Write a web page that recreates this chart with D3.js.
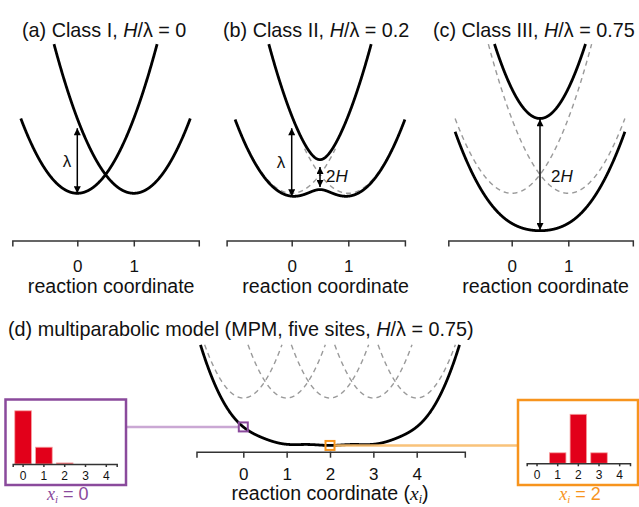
<!DOCTYPE html>
<html>
<head>
<meta charset="utf-8">
<script src="https://cdnjs.cloudflare.com/ajax/libs/d3/7.8.5/d3.min.js"></script>
<style>
    body {
        margin: 0;
        background: #fff;
        font-family: 'Liberation Sans', Arial, sans-serif;
    }
    svg text {
        fill: #111;
    }
    .axis .domain, .axis line {
        stroke: #333;
        stroke-width: 1.5;
    }
</style>
</head>
<body>
<svg width="639" height="507"></svg>
<script>
    // two-state panels: class name and coupling H/lambda
    var classNames = ["(a) Class I, ", "(b) Class II, ", "(c) Class III, "];
    var couplings = [0, 0.2, 0.75];
    var couplingLabels = ["0", "0.2", "0.75"];
    var stateCenters = [0, 1];
    var xTicks = [0, 1];
    // arrows [x, from, to] in units of lambda
    var lambdaArrows = [[0, 0, 0.87], [0, -0.04, 0.87], null];
    var twoHArrows = [null, [0.5, 0.085, 0.35], [0.5, -0.49, 0.99]];

    // multiparabolic model, five sites
    var mpmSites = [0, 1, 2, 3, 4];
    var mpmCoupling = 0.75;
    var mpmTicks = [0, 1, 2, 3, 4];
    var insetSites = [0, 1, 2, 3, 4];
    var probAtX0 = [0.76, 0.24, 0.015, 0, 0];
    var probAtX2 = [0, 0.15, 0.70, 0.15, 0];

    var svg = d3.select("svg");

    svg.append("defs").append("marker")
        .attr("id", "ah")
        .attr("viewBox", "0 0 10 10")
        .attr("refX", 10).attr("refY", 5)
        .attr("markerUnits", "userSpaceOnUse")
        .attr("markerWidth", 8).attr("markerHeight", 7)
        .attr("orient", "auto-start-reverse")
        .append("path").attr("d", "M0,0L10,5L0,10z").attr("fill", "#000");

    function arrow(g, x1, y1, x2, y2) {
        g.append("line")
            .attr("x1", x1).attr("y1", y1).attr("x2", x2).attr("y2", y2)
            .attr("stroke", "#000").attr("stroke-width", 1.5)
            .attr("marker-start", "url(#ah)").attr("marker-end", "url(#ah)");
    }

    // ---------- panels a, b, c ----------
    var panelRange = [[77.3, 133.8], [291.7, 348.3], [511.7, 568.3]];
    var axisExtent = [[-1.15, 2.15], [-1.15, 2.0], [-1.12, 2.14]];
    var titleX = [22, 223, 433];
    var lambdaDx = [-6, -6.5, 0];
    var twoHDx = [0, 6, 11];
    var dashTop = [0, 0.6, 2.0];   // how high the diabatic (dashed) curves are drawn
    var Emax = 2.0;
    var y = d3.scaleLinear().domain([0, 1]).range([193.3, 118.5]);
    var xs = d3.range(-1, 2.0001, 0.004);

    classNames.forEach(function(name, i) {
        var x = d3.scaleLinear().domain([0, 1]).range(panelRange[i]);
        var H = couplings[i];
        var g = svg.append("g");

        var lineTo = function(top) {
            return d3.line()
                .defined(function(d) { return d[1] <= top; })
                .x(function(d) { return x(d[0]); })
                .y(function(d) { return y(d[1]); });
        };
        var line = lineTo(Emax);

        var va = function(t) { return (t - stateCenters[0]) * (t - stateCenters[0]); };
        var vb = function(t) { return (t - stateCenters[1]) * (t - stateCenters[1]); };

        if (H > 0) {
            [va, vb].forEach(function(v) {
                g.append("path")
                    .datum(xs.map(function(t) { return [t, v(t)]; }))
                    .attr("d", lineTo(dashTop[i]))
                    .attr("fill", "none").attr("stroke", "#9a9a9a")
                    .attr("stroke-width", 1.4).attr("stroke-dasharray", "5,4");
            });
        }
        [-1, 1].forEach(function(sign) {
            var pts = xs.map(function(t) {
                var a = va(t), b = vb(t);
                return [t, (a + b) / 2 + sign * Math.sqrt((a - b) * (a - b) / 4 + H * H)];
            });
            g.append("path").datum(pts).attr("d", line)
                .attr("fill", "none").attr("stroke", "#000").attr("stroke-width", 2.8);
        });

        // axis
        var ax = x.copy().domain(axisExtent[i]).range(axisExtent[i].map(x));
        var axisG = g.append("g").attr("class", "axis")
            .attr("transform", "translate(0,240.5)")
            .call(d3.axisBottom(ax).tickValues(xTicks).tickSizeOuter(0).tickSize(6).tickFormat(d3.format("d")));
        axisG.selectAll("text").attr("font-size", 17).attr("font-family", "Liberation Sans, Arial, sans-serif")
            .attr("fill", "#111").attr("dy", null).attr("y", 31);

        g.append("text").attr("x", x(0.6)).attr("y", 293).attr("text-anchor", "middle")
            .attr("font-size", 19.6).text("reaction coordinate");

        var title = g.append("text").attr("x", titleX[i]).attr("y", 36.5).attr("font-size", 19.8);
        title.append("tspan").text(name);
        title.append("tspan").attr("font-style", "italic").text("H");
        title.append("tspan").text("/λ = " + couplingLabels[i]);

        if (lambdaArrows[i]) {
            var la = lambdaArrows[i];
            arrow(g, x(la[0]), y(la[1]), x(la[0]), y(la[2]));
            g.append("text").attr("x", x(la[0]) + lambdaDx[i]).attr("y", y((la[1] + la[2]) / 2) + 6)
                .attr("text-anchor", "end").attr("font-size", 17).text("λ");
        }
        if (twoHArrows[i]) {
            var ha = twoHArrows[i];
            arrow(g, x(ha[0]), y(ha[1]), x(ha[0]), y(ha[2]));
            var t2 = g.append("text").attr("x", x(ha[0]) + twoHDx[i]).attr("y", i == 1 ? 181.5 : 182)
                .attr("font-size", 17);
            t2.append("tspan").text("2");
            t2.append("tspan").attr("font-style", "italic").text("H");
        }
    });

    // ---------- panel d ----------
    var xd = d3.scaleLinear().domain([0, 4]).range([243.3, 416.7]);
    var yd = d3.scaleLinear().domain([0, 1]).range([398, 331]);
    var EmaxD = 0.8;

    // lowest eigenvalue of the tridiagonal site Hamiltonian (Sturm bisection)
    function ground(t) {
        var d = mpmSites.map(function(s) { return (t - s) * (t - s); });
        var lo = d3.min(d) - 2 * mpmCoupling, hi = d3.min(d);
        for (var k = 0; k < 60; k++) {
            var mid = (lo + hi) / 2, q = 1, n = 0;
            for (var j = 0; j < d.length; j++) {
                q = d[j] - mid - (j > 0 ? mpmCoupling * mpmCoupling / q : 0);
                if (q === 0) q = 1e-12;
                if (q < 0) n++;
            }
            if (n > 0) hi = mid; else lo = mid;
        }
        return (lo + hi) / 2;
    }

    var gd = svg.append("g");
    var lineD = d3.line()
        .defined(function(d) { return d[1] <= EmaxD; })
        .x(function(d) { return xd(d[0]); })
        .y(function(d) { return yd(d[1]); });

    mpmSites.forEach(function(s) {
        gd.append("path")
            .datum(d3.range(s - 1, s + 1.0001, 0.004).map(function(t) { return [t, (t - s) * (t - s)]; }))
            .attr("d", lineD)
            .attr("fill", "none").attr("stroke", "#9a9a9a")
            .attr("stroke-width", 1.4).attr("stroke-dasharray", "5,4");
    });
    gd.append("path")
        .datum(d3.range(-1.2, 5.2001, 0.004).map(function(t) { return [t, ground(t)]; }))
        .attr("d", lineD)
        .attr("fill", "none").attr("stroke", "#000").attr("stroke-width", 2.8);

    var axd = xd.copy().domain([-1.08, 5.11]).range([xd(-1.08), xd(5.11)]);
    var axisD = gd.append("g").attr("class", "axis")
        .attr("transform", "translate(0,451.7)")
        .call(d3.axisBottom(axd).tickValues(mpmTicks).tickSizeOuter(0).tickSize(6).tickFormat(d3.format("d")));
    axisD.selectAll("text").attr("font-size", 17).attr("font-family", "Liberation Sans, Arial, sans-serif")
        .attr("fill", "#111").attr("dy", null).attr("y", 28);

    var rc = gd.append("text").attr("x", 330).attr("y", 500).attr("text-anchor", "middle").attr("font-size", 19.6);
    rc.append("tspan").text("reaction coordinate (");
    rc.append("tspan").attr("font-family", "Liberation Serif, serif").attr("font-style", "italic").text("x");
    rc.append("tspan").attr("font-family", "Liberation Serif, serif").attr("font-style", "italic")
        .attr("font-size", 12).attr("dy", 3).text("i");
    rc.append("tspan").attr("dy", -3).text(")");

    var td = gd.append("text").attr("x", 8).attr("y", 336).attr("font-size", 19.8);
    td.append("tspan").text("(d) multiparabolic model (MPM, five sites, ");
    td.append("tspan").attr("font-style", "italic").text("H");
    td.append("tspan").text("/λ = 0.75)");

    // insets
    var insets = [
        {probs: probAtX0, xi: 0, box: [5.5, 399.5, 120.5, 85.5], base: 464, range: [12.7, 116.7],
         color: "#8a4a9c", link: "#c59fd0", label: "0"},
        {probs: probAtX2, xi: 2, box: [518, 400, 120, 85], base: 463.3, range: [526.7, 630],
         color: "#f7941d", link: "#f9bd6c", label: "2"}
    ];

    insets.forEach(function(ins, k) {
        var g = svg.append("g");
        var bx = d3.scaleBand().domain(insetSites).range(ins.range).paddingInner(0.2).paddingOuter(0.1);
        var by = d3.scaleLinear().domain([0, 1]).range([ins.base, ins.base - 70]);

        // link line from box to marker on the curve
        var mx = xd(ins.xi), my = yd(ground(ins.xi));
        var bxEdge = k == 0 ? ins.box[0] + ins.box[2] : ins.box[0];
        g.append("line")
            .attr("x1", bxEdge).attr("x2", k == 0 ? mx - 4.5 : mx + 4.5)
            .attr("y1", my).attr("y2", my)
            .attr("stroke", ins.link).attr("stroke-width", 2.5).attr("opacity", 0.9);
        g.append("rect").attr("x", mx - 4.5).attr("y", my - 4.5).attr("width", 9).attr("height", 9)
            .attr("fill", "none").attr("stroke", ins.color).attr("stroke-width", 2);

        g.append("rect").attr("x", ins.box[0]).attr("y", ins.box[1])
            .attr("width", ins.box[2]).attr("height", ins.box[3])
            .attr("fill", "#fff").attr("stroke", ins.color).attr("stroke-width", 2.5);

        g.selectAll(".bar").data(ins.probs).enter().append("rect")
            .attr("x", function(d, i) { return bx(insetSites[i]); })
            .attr("width", bx.bandwidth())
            .attr("y", function(d) { return by(d); })
            .attr("height", function(d) { return by(0) - by(d); })
            .attr("fill", "#e2001a").attr("stroke", "#f7a0a0").attr("stroke-width", 0.8);

        var ia = g.append("g").attr("class", "axis")
            .attr("transform", "translate(0," + ins.base + ")")
            .call(d3.axisBottom(bx).tickSizeOuter(0).tickSize(3));
        ia.selectAll(".domain, line").attr("stroke-width", 1.2);
        ia.selectAll("text").attr("font-size", 12).attr("font-family", "Liberation Sans, Arial, sans-serif")
            .attr("fill", "#222").attr("dy", null).attr("y", 16);

        var lab = g.append("text").attr("x", ins.box[0] + ins.box[2] / 2 + 2).attr("y", 500)
            .attr("text-anchor", "middle").attr("font-size", 18);
        lab.append("tspan").attr("font-family", "Liberation Serif, serif").attr("font-style", "italic")
            .attr("fill", ins.color).text("x");
        lab.append("tspan").attr("font-family", "Liberation Serif, serif").attr("font-style", "italic")
            .attr("font-size", 11).attr("dy", 3).attr("fill", ins.color).text("i");
        lab.append("tspan").attr("dy", -3).attr("fill", ins.color).text(" = " + ins.label);
    });
</script>
</body>
</html>
